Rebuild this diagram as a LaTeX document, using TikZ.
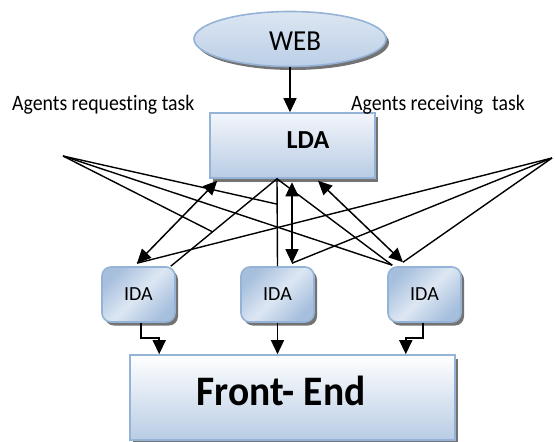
\documentclass[tikz,border=0pt]{standalone}
\usepackage{fontspec}
\setmainfont{Carlito}[RawFeature={-liga;-dlig}]
\usetikzlibrary{shapes.geometric,arrows.meta,shadows,calc}
\definecolor{bord}{HTML}{95B3D7}
\definecolor{lite}{HTML}{F3F6FB}
\definecolor{dark}{HTML}{B8CCE4}
\definecolor{idal}{HTML}{DDE7F3}
\definecolor{idad}{HTML}{A6BFDD}
\definecolor{webt}{HTML}{DCE6F2}
\definecolor{webb}{HTML}{BBCFE6}
\begin{document}
\begin{tikzpicture}[x=1pt,y=-1pt,
  arr/.style={-{Triangle[length=14pt,width=13pt]}, line width=1.5pt},
  dbl/.style={{Triangle[length=14pt,width=13pt]}-{Triangle[length=14pt,width=13pt]}, line width=1.5pt},
  ln/.style={line width=1.4pt},
  shad/.style={drop shadow={shadow xshift=3pt, shadow yshift=-3.5pt, fill=black!55, opacity=1}},
  box/.style={rectangle, draw=bord, line width=1.6pt, top color=lite, bottom color=dark, shad, inner sep=0pt},
  idabox/.style={rectangle, rounded corners=9pt, draw=bord, line width=1.6pt, left color=idad, right color=idad, middle color=idal, shading angle=45, shad, minimum width=73pt, minimum height=55pt, font=\fontsize{20}{22}\selectfont, inner sep=0pt},
  lbl/.style={font=\fontsize{22}{24}\selectfont, xscale=0.9, inner sep=0pt}
]
\useasboundingbox (0,0) rectangle (555,442);

% nodes
\node[ellipse, draw=bord, line width=1.6pt, top color=webt, bottom color=webb, shad, minimum width=192pt, minimum height=55pt] (web) at (290,39) {};
\node[font=\fontsize{29}{31}\selectfont, xscale=0.93] (webtxt) at (295,41) {WEB};

\node[box, minimum width=165pt, minimum height=65pt] (lda) at (292.5,145.5) {};
\node[font=\bfseries\fontsize{26}{28}\selectfont] (ldatxt) at (308,140) {LDA};

\node[idabox] (ida1) at (138.5,294.5) {IDA};
\node[idabox] (ida2) at (277.5,294.5) {IDA};
\node[idabox] (ida3) at (424.5,294.5) {IDA};

\node[box, top color=white, minimum width=325pt, minimum height=85pt] (fe) at (292.5,397.5) {};
\node[font=\bfseries\fontsize{42}{44}\selectfont, xscale=0.94] (fetxt) at (281,391) {Front- End};

\node[lbl, anchor=base west] (req) at (12,110) {Agents requesting task};
\node[lbl, anchor=base west] (rec) at (351,110) {Agents receiving~ task};

% coordinates
\coordinate (LA) at (63,156);
\coordinate (RA) at (552,158);
\coordinate (ap) at ($(lda.south)+(-15.5,0)$);
\coordinate (c1) at ($(ida1.north east)+(-5,0)$);
\coordinate (c3) at ($(ida3.north west)+(5,-1)$);
\coordinate (p1) at ($(ap)!0.29!(ida2.north)$);
\coordinate (p3) at ($(ap)!0.607!(c1)$);
\coordinate (t1) at ($(ida1.north)+(-1.5,-3)$);
\coordinate (t2) at ($(ida2.north)+(14.5,-3)$);
\coordinate (t3) at ($(ida3.north)+(-21.5,-4)$);
\coordinate (s1) at ($(lda.south west)+(8,2)$);
\coordinate (s2) at ($(lda.south)+(-0.5,3.5)$);
\coordinate (s3) at ($(lda.south)+(25.5,2)$);

% WEB -> LDA
\draw[arr] (web.south) -- (web.south |- lda.north);

% requesting lines from IDAs to LDA apex
\draw[ln] (c1) -- (ap) -- (c3);
\draw[ln] (ap) -- (ida2.north);
% lines from requesting label point
\draw[ln] (LA) -- (p1);
\draw[ln] (LA) -- (c3);
\draw[ln] (LA) -- (p3);
% lines from receiving label point
\draw[ln] (RA) -- (t1);
\draw[ln] (RA) -- (t2);
\draw[ln] (RA) -- (t3);
% double arrows LDA <-> IDA
\draw[dbl] (s1) -- (t1);
\draw[dbl] (s2) -- (t2);
\draw[dbl] (s3) -- (t3);

% IDA -> Front-End
\draw[arr] ($(ida1.south)+(2.5,0)$) -- ++(0,15) -| ($(fe.north west)+(30,0)$);
\draw[arr] (ida2.south) -- (ida2.south |- fe.north);
\draw[arr] ($(ida3.south)+(-1.5,0)$) -- ++(0,15) -| ($(fe.north east)+(-50,0)$);
\end{tikzpicture}
\end{document}
